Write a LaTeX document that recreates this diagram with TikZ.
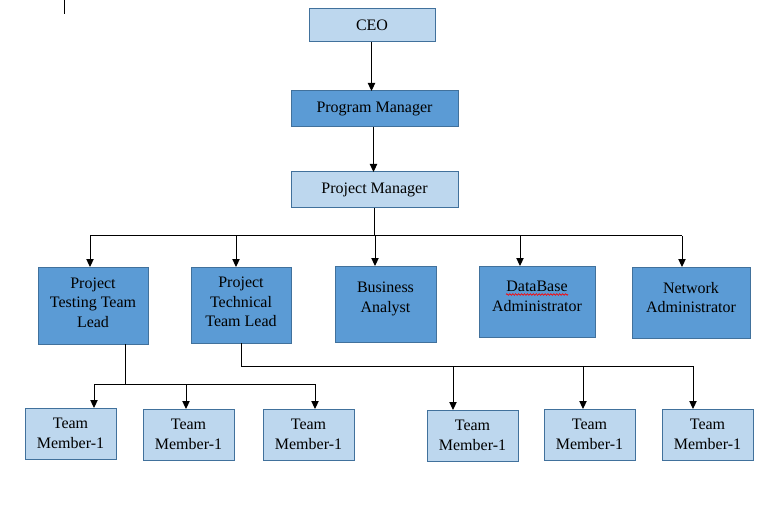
\documentclass[tikz,border=0pt]{standalone}
\usepackage{fontspec}
\setmainfont{Liberation Serif}
\usetikzlibrary{arrows.meta,decorations.pathmorphing,calc}
\definecolor{lightbox}{HTML}{BDD7EE}
\definecolor{darkbox}{HTML}{5B9BD5}
\definecolor{boxline}{HTML}{41719C}
\begin{document}
\begin{tikzpicture}[x=0.75pt,y=-0.75pt,
  orgbox/.style={draw=boxline, line width=0.75pt, inner sep=0pt, outer sep=0pt,
    font=\fontsize{12}{14.5}\selectfont, align=center},
  lbox/.style={orgbox, fill=lightbox},
  dbox/.style={orgbox, fill=darkbox},
  txt/.style={font=\fontsize{12}{14.5}\selectfont, align=center, inner sep=0pt},
  conn/.style={line width=0.75pt, black},
  arr/.style={conn, -{Triangle[width=5.5pt,length=6pt]}},
  member/.style={lbox, minimum width=68.25pt, minimum height=38.25pt}]
\useasboundingbox (0,0) rectangle (776,510);
\fill[white] (0,0) rectangle (776,510);
% stray mark
\draw[conn] (64,0) -- (64,14);
% top chain
\node[lbox, minimum width=94.5pt, minimum height=24.75pt] (ceo) at (372,25.5) {CEO};
\node[dbox, minimum width=125.25pt, minimum height=27pt] (pgm) at (374.5,109) {Program Manager};
\node[lbox, minimum width=125.25pt, minimum height=27pt] (pjm) at (374.5,190) {Project Manager};
% second row
\node[dbox, minimum width=82.5pt, minimum height=57.75pt] (tl) at (93,305.5) {};
\node[txt] (tlt) at ([yshift=2.25pt]tl.center) {Project\\Testing Team\\Lead};
\node[dbox, minimum width=75pt, minimum height=57pt] (te) at (241,305) {};
\node[txt] (tet) at ([yshift=2.25pt]te.center) {Project\\Technical\\Team Lead};
\node[dbox, minimum width=75.75pt, minimum height=57pt] (ba) at (385.5,304) {};
\node[txt] (bat) at ([yshift=3.75pt]ba.center) {Business\\Analyst};
\node[dbox, minimum width=87pt, minimum height=53.25pt] (db) at (537,301.5) {};
\node[txt] (dbt) at ([yshift=3.75pt]db.center) {DataBase\\Administrator};
\node[dbox, minimum width=88.5pt, minimum height=53.25pt] (na) at (691,302.5) {};
\node[txt] (nat) at ([yshift=3.75pt]na.center) {Network\\Administrator};
\draw[red, line width=0.5pt, decorate, decoration={snake, amplitude=0.6pt, segment length=2.2pt}] (506,294.5) -- (568,294.5);
% third row
\node[member] (m1) at (70.5,433.5) {Team\\Member-1};
\node[member] (m2) at (188.5,434.5) {Team\\Member-1};
\node[member] (m3) at (308.5,434.5) {Team\\Member-1};
\node[member] (m4) at (472.5,435.5) {Team\\Member-1};
\node[member] (m5) at (589.5,434.5) {Team\\Member-1};
\node[member] (m6) at (707.5,434.5) {Team\\Member-1};
% connectors top
\coordinate (ca) at (371.5,42);
\coordinate (cb) at (373.5,127);
\draw[arr] (ca) -- (ca |- pgm.north);
\draw[arr] (cb) -- (cb |- pjm.north);
\coordinate (pmb) at (374.5,236);
\coordinate (c1) at (90,236);
\coordinate (c2) at (236,236);
\coordinate (c3) at (375,236);
\coordinate (c4) at (520,236);
\coordinate (c5) at (682,236);
\draw[conn] (pjm.south) -- (pmb);
\draw[conn] (c1) -- (c5);
\draw[arr] (c1) -- (c1 |- tl.north);
\draw[arr] (c2) -- (c2 |- te.north);
\draw[arr] (c3) -- (c3 |- ba.north);
\draw[arr] (c4) -- (c4 |- db.north);
\draw[arr] (c5) -- (c5 |- na.north);
% testing lead to members
\coordinate (tlb) at (125,384);
\coordinate (d1) at (94,384);
\coordinate (d2) at (186,384);
\coordinate (d3) at (315,384);
\draw[conn] (tl.south -| tlb) -- (tlb);
\draw[conn] (d1) -- (d3);
\draw[arr] (d1) -- (d1 |- m1.north);
\draw[arr] (d2) -- (d2 |- m2.north);
\draw[arr] (d3) -- (d3 |- m3.north);
% technical lead to members
\coordinate (teb) at (241,366);
\coordinate (e1) at (453,366);
\coordinate (e2) at (583,366);
\coordinate (e3) at (693,366);
\draw[conn] (te.south) -- (teb);
\draw[conn] (teb) -- (e3);
\draw[arr] (e1) -- (e1 |- m4.north);
\draw[arr] (e2) -- (e2 |- m5.north);
\draw[arr] (e3) -- (e3 |- m6.north);
\end{tikzpicture}
\end{document}
